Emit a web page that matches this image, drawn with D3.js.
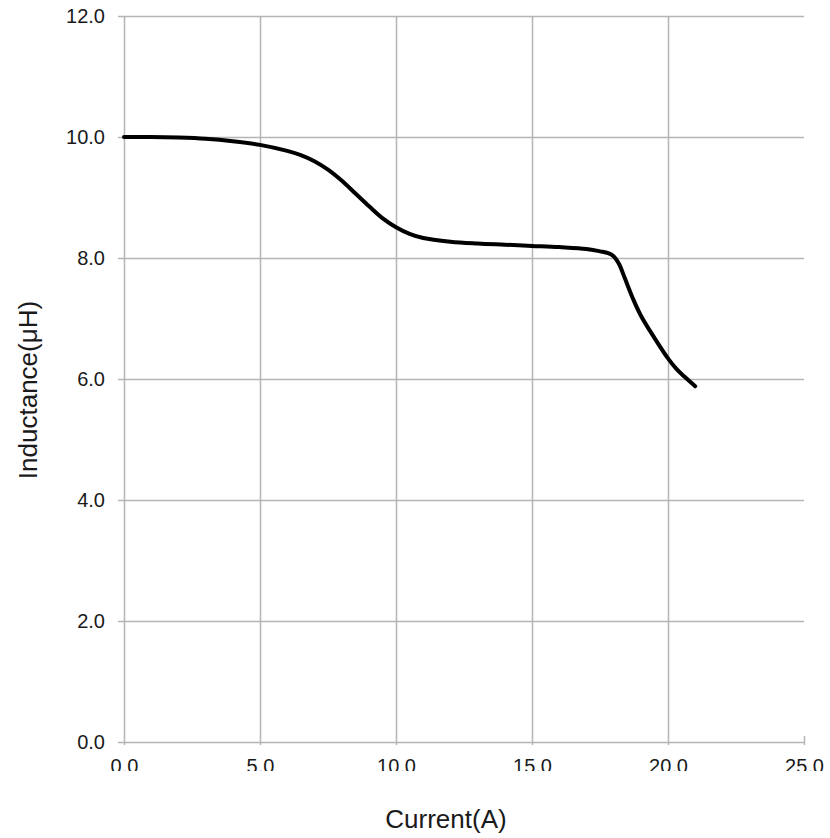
<!DOCTYPE html>
<html>
<head>
<meta charset="utf-8">
<script src="https://cdn.jsdelivr.net/npm/d3@7"></script>
<style>
  body { margin: 0; background: #fff; }
  svg { font-family: "Liberation Sans", Arial, sans-serif; }
</style>
</head>
<body>
<svg id="chart" width="830" height="838"></svg>
<script>
// data
const current = [0, 1, 2, 3, 4, 5, 6, 6.5, 7, 7.5, 8, 8.5, 9, 9.5, 10, 10.5, 11, 12, 13, 14, 15, 16, 17, 17.5, 17.8, 18, 18.2, 18.4, 18.7, 19, 19.5, 20, 20.3, 20.6, 21];
const inductance = [10.0, 10.0, 9.99, 9.97, 9.93, 9.87, 9.77, 9.70, 9.60, 9.46, 9.28, 9.07, 8.86, 8.66, 8.51, 8.40, 8.33, 8.27, 8.24, 8.22, 8.20, 8.18, 8.15, 8.11, 8.08, 8.03, 7.90, 7.68, 7.34, 7.05, 6.68, 6.34, 6.17, 6.04, 5.88];
const xTicks = [0, 5, 10, 15, 20, 25];
const yTicks = [0, 2, 4, 6, 8, 10, 12];

const svg = d3.select('#chart');
const plotLeft = 124, plotRight = 804, plotTop = 16, plotBottom = 742;
const gridColor = '#b5b5b5';

let x = d3.scaleLinear().domain([0, 25]).range([plotLeft, plotRight]);
let y = d3.scaleLinear().domain([0, 12]).range([plotBottom, plotTop]);

// horizontal grid + y labels
let yAxis = svg.append('g')
    .attr('transform', `translate(${plotLeft - 6},0)`)
    .call(d3.axisLeft(y).tickValues(yTicks).tickFormat(d3.format('.1f'))
        .tickSize(-(plotRight - plotLeft + 6)).tickPadding(13));
yAxis.select('.domain').remove();
yAxis.selectAll('line').attr('stroke', gridColor).attr('stroke-width', 1.5);
yAxis.selectAll('text').attr('font-size', 20).attr('fill', '#1a1a1a')
    .attr('font-family', '"Liberation Sans", Arial, sans-serif');

// vertical grid + x labels (labels clipped at the bottom like the original)
svg.append('clipPath').attr('id', 'xclip')
    .append('rect').attr('x', 0).attr('y', -760).attr('width', 830).attr('height', 786);

let xAxis = svg.append('g')
    .attr('transform', `translate(0,${plotBottom + 3})`)
    .attr('clip-path', 'url(#xclip)')
    .call(d3.axisBottom(x).tickValues(xTicks).tickFormat(d3.format('.1f'))
        .tickSize(-(plotBottom + 3 - plotTop)).tickPadding(14));
xAxis.select('.domain').remove();
xAxis.selectAll('line').attr('stroke', gridColor).attr('stroke-width', 1.5);
xAxis.selectAll('.tick').filter(d => d === 25).select('line').attr('y2', -9);
xAxis.selectAll('text').attr('font-size', 20).attr('fill', '#1a1a1a')
    .attr('font-family', '"Liberation Sans", Arial, sans-serif');

// curve
let line = d3.line()
    .x((d, i) => x(current[i]))
    .y(d => y(d))
    .curve(d3.curveCatmullRom.alpha(0.5));

svg.append('path')
    .attr('d', line(inductance))
    .attr('fill', 'none')
    .attr('stroke', '#000')
    .attr('stroke-width', 4)
    .attr('stroke-linecap', 'round')
    .attr('stroke-linejoin', 'round');

// axis titles
svg.append('text')
    .attr('x', 446).attr('y', 828)
    .attr('text-anchor', 'middle')
    .attr('font-size', 26).attr('fill', '#1a1a1a')
    .text('Current(A)');

svg.append('text')
    .attr('transform', 'translate(37,390) rotate(-90)')
    .attr('text-anchor', 'middle')
    .attr('font-size', 26).attr('fill', '#1a1a1a')
    .text('Inductance(μH)');
</script>
</body>
</html>
